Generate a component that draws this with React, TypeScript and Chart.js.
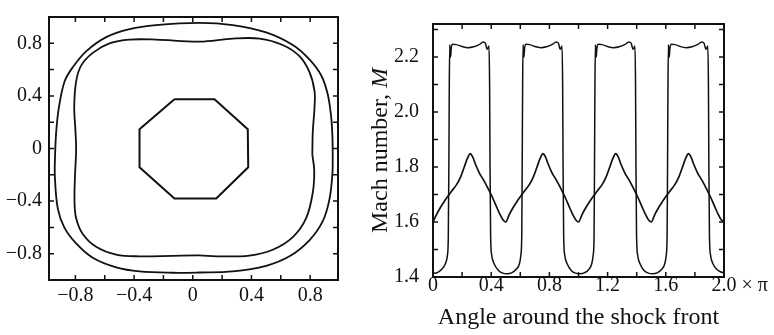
import React, { useEffect, useRef } from "react";
import { Chart, registerables } from "chart.js";

Chart.register(...registerables);

const SERIF = "'Liberation Serif', 'Times New Roman', serif";
const INK = "#111111";
const TICK_PX = 20;
const TITLE_PX = 24;

// ---------------- Left panel: shock front shapes ----------------
const octagonX = [-0.125, 0.148, 0.375, 0.378, 0.16, -0.125, -0.363, -0.363, -0.125];
const octagonY = [0.384, 0.384, 0.157, -0.133, -0.37, -0.37, -0.133, 0.157, 0.384];

const outerFrontX = [0.954, 0.952, 0.943, 0.92, 0.875, 0.795, 0.682, 0.5, 0.273, 0.046, -0.25, -0.431, -0.59, -0.727, -0.818, -0.874, -0.912, -0.93, -0.938, -0.94, -0.92, -0.875, -0.795, -0.682, -0.522, -0.363, -0.136, 0.046, 0.273, 0.5, 0.659, 0.795, 0.886, 0.932, 0.952, 0.954];
const outerFrontY = [-0.036, 0.1, 0.254, 0.422, 0.567, 0.688, 0.797, 0.893, 0.949, 0.966, 0.949, 0.918, 0.857, 0.749, 0.628, 0.52, 0.326, 0.15, -0.02, -0.205, -0.447, -0.592, -0.712, -0.821, -0.894, -0.925, -0.935, -0.933, -0.925, -0.882, -0.81, -0.688, -0.543, -0.375, -0.18, -0.036];

const innerFrontX = [0.815, 0.818, 0.83, 0.83, 0.795, 0.727, 0.613, 0.455, 0.273, 0.046, -0.25, -0.431, -0.568, -0.682, -0.761, -0.795, -0.808, -0.8, -0.795, -0.803, -0.806, -0.795, -0.75, -0.659, -0.522, -0.363, -0.136, 0.046, 0.16, 0.386, 0.545, 0.682, 0.773, 0.818, 0.828, 0.815];
const innerFrontY = [-0.036, 0.133, 0.326, 0.447, 0.592, 0.712, 0.797, 0.846, 0.846, 0.823, 0.838, 0.838, 0.809, 0.737, 0.64, 0.52, 0.326, 0.15, 0.0, -0.2, -0.4, -0.52, -0.64, -0.737, -0.797, -0.81, -0.806, -0.803, -0.81, -0.804, -0.76, -0.664, -0.52, -0.326, -0.157, -0.036];

const leftRangeX = [-0.98, 0.99];
const leftRangeY = [-0.99, 1.01];

// ---------------- Right panel: Mach number around the front ----------------
const angleA = [
  0.0, 0.03, 0.06, 0.085, 0.098, 0.105, 0.109, 0.112, 0.115, 0.118, 0.121, 0.125, 0.135, 0.16, 0.2, 0.24, 0.28, 0.32, 0.345, 0.36, 0.372, 0.385, 0.389, 0.392, 0.396, 0.404, 0.42, 0.45, 0.48,
  0.51, 0.54, 0.57, 0.595, 0.604, 0.61, 0.613, 0.616, 0.619, 0.622, 0.625, 0.629, 0.64, 0.665, 0.7, 0.74, 0.78, 0.82, 0.847, 0.862, 0.874, 0.887, 0.891, 0.894, 0.898, 0.906, 0.922, 0.95, 0.98,
  1.01, 1.04, 1.07, 1.092, 1.101, 1.107, 1.11, 1.113, 1.116, 1.119, 1.122, 1.126, 1.137, 1.162, 1.2, 1.24, 1.28, 1.32, 1.347, 1.362, 1.375, 1.388, 1.392, 1.395, 1.399, 1.407, 1.423, 1.45, 1.48,
  1.51, 1.54, 1.57, 1.594, 1.603, 1.609, 1.612, 1.615, 1.618, 1.621, 1.624, 1.628, 1.639, 1.664, 1.7, 1.74, 1.78, 1.82, 1.848, 1.863, 1.876, 1.889, 1.893, 1.896, 1.9, 1.908, 1.924, 1.95, 1.975, 2.0,
];
const machA = [
  1.413, 1.416, 1.428, 1.448, 1.475, 1.54, 1.8, 2.1, 2.245, 2.215, 2.2, 2.23, 2.246, 2.245, 2.238, 2.234, 2.237, 2.246, 2.255, 2.25, 2.228, 2.24, 2.1, 1.8, 1.55, 1.478, 1.448, 1.424, 1.414,
  1.412, 1.415, 1.427, 1.45, 1.48, 1.55, 1.8, 2.1, 2.245, 2.215, 2.2, 2.23, 2.246, 2.245, 2.238, 2.234, 2.237, 2.246, 2.255, 2.25, 2.228, 2.24, 2.1, 1.8, 1.55, 1.478, 1.448, 1.424, 1.414,
  1.412, 1.415, 1.427, 1.45, 1.48, 1.55, 1.8, 2.1, 2.245, 2.215, 2.2, 2.23, 2.246, 2.245, 2.238, 2.234, 2.237, 2.246, 2.255, 2.25, 2.228, 2.24, 2.1, 1.8, 1.55, 1.478, 1.448, 1.424, 1.414,
  1.412, 1.415, 1.427, 1.45, 1.48, 1.55, 1.8, 2.1, 2.245, 2.215, 2.2, 2.23, 2.246, 2.245, 2.238, 2.234, 2.237, 2.246, 2.255, 2.25, 2.228, 2.24, 2.1, 1.8, 1.55, 1.478, 1.448, 1.428, 1.419, 1.415,
];

const angleB = [
  0.0, 0.025, 0.05, 0.075, 0.1, 0.13, 0.16, 0.19, 0.215, 0.237, 0.256, 0.272, 0.292, 0.318, 0.348, 0.378, 0.408, 0.436, 0.46, 0.482,
  0.5, 0.525, 0.55, 0.575, 0.6, 0.63, 0.66, 0.69, 0.715, 0.737, 0.756, 0.772, 0.792, 0.818, 0.848, 0.878, 0.908, 0.936, 0.96, 0.982,
  1.0, 1.025, 1.05, 1.075, 1.1, 1.13, 1.16, 1.19, 1.215, 1.237, 1.256, 1.272, 1.292, 1.318, 1.348, 1.378, 1.408, 1.436, 1.46, 1.482,
  1.5, 1.525, 1.55, 1.575, 1.6, 1.63, 1.66, 1.69, 1.715, 1.737, 1.756, 1.772, 1.792, 1.818, 1.848, 1.878, 1.908, 1.936, 1.96, 1.982, 2.0,
];
const machB = [
  1.6, 1.628, 1.652, 1.673, 1.692, 1.714, 1.734, 1.764, 1.8, 1.832, 1.849, 1.838, 1.81, 1.779, 1.752, 1.722, 1.69, 1.656, 1.628, 1.607,
  1.6, 1.628, 1.652, 1.673, 1.692, 1.714, 1.734, 1.764, 1.8, 1.832, 1.849, 1.838, 1.81, 1.779, 1.752, 1.722, 1.69, 1.656, 1.628, 1.607,
  1.6, 1.628, 1.652, 1.673, 1.692, 1.714, 1.734, 1.764, 1.8, 1.832, 1.849, 1.838, 1.81, 1.779, 1.752, 1.722, 1.69, 1.656, 1.628, 1.607,
  1.6, 1.628, 1.652, 1.673, 1.692, 1.714, 1.734, 1.764, 1.8, 1.832, 1.849, 1.838, 1.81, 1.779, 1.752, 1.722, 1.69, 1.656, 1.628, 1.607, 1.6,
];

const rightRangeX = [0, 2.0];
const rightRangeY = [1.4, 2.32];
const yTitleMain = "Mach number, ";
const yTitleSymbol = "M";
const xTitle = "Angle around the shock front";
const xUnitSuffix = "× π";

// ---------------- helpers ----------------
const pts = (xs: number[], ys: number[]) => xs.map((x, i) => ({ x, y: ys[i] }));

const leftTickLabel = (v: number) => {
  const k = Math.round(v * 10);
  if (k % 4 !== 0) return "";
  if (k === 0) return "0";
  const s = (Math.abs(k) / 10).toFixed(1);
  return k < 0 ? "\u2212" + s : s;
};
const rightXLabel = (v: number) => {
  const k = Math.round(v * 10);
  if (k % 4 !== 0) return "";
  return k === 0 ? "0" : (k / 10).toFixed(1);
};
const rightYLabel = (v: number) => {
  const k = Math.round(v * 10);
  if (k % 2 !== 0) return "";
  return (k / 10).toFixed(1);
};

const framePlugin = {
  id: "frameTicks",
  afterDraw(chart: any) {
    const { ctx, chartArea: a, scales } = chart;
    const len = 5;
    ctx.save();
    ctx.strokeStyle = INK;
    ctx.lineWidth = 1.5;
    ctx.beginPath();
    scales.x.ticks.forEach((t: any) => {
      const p = scales.x.getPixelForValue(t.value);
      if (p < a.left + 2 || p > a.right - 2) return;
      ctx.moveTo(p, a.bottom);
      ctx.lineTo(p, a.bottom - len);
      ctx.moveTo(p, a.top);
      ctx.lineTo(p, a.top + len);
    });
    scales.y.ticks.forEach((t: any) => {
      const p = scales.y.getPixelForValue(t.value);
      if (p < a.top + 2 || p > a.bottom - 2) return;
      ctx.moveTo(a.left, p);
      ctx.lineTo(a.left + len, p);
      ctx.moveTo(a.right, p);
      ctx.lineTo(a.right - len, p);
    });
    ctx.stroke();
    ctx.lineWidth = 2;
    ctx.strokeRect(a.left, a.top, a.right - a.left, a.bottom - a.top);
    ctx.restore();
  },
};

const RIGHT_X_TICK_PAD = -1;

const rightDecorPlugin = {
  id: "rightDecor",
  afterDraw(chart: any) {
    const { ctx, chartArea: a, scales } = chart;
    ctx.save();
    ctx.fillStyle = INK;
    // y-axis title with italic symbol
    const normal = `${TITLE_PX}px ${SERIF}`;
    const italic = `italic ${TITLE_PX}px ${SERIF}`;
    ctx.font = normal;
    const w1 = ctx.measureText(yTitleMain).width;
    ctx.font = italic;
    const w2 = ctx.measureText(yTitleSymbol).width;
    ctx.translate(21, (a.top + a.bottom) / 2);
    ctx.rotate(-Math.PI / 2);
    ctx.textBaseline = "middle";
    ctx.textAlign = "left";
    ctx.font = normal;
    ctx.fillText(yTitleMain, -(w1 + w2) / 2, 0);
    ctx.font = italic;
    ctx.fillText(yTitleSymbol, -(w1 + w2) / 2 + w1, 0);
    ctx.setTransform(1, 0, 0, 1, 0, 0);
    // "× π" after the last x tick label
    ctx.font = `${TICK_PX}px ${SERIF}`;
    const px = scales.x.getPixelForValue(rightRangeX[1]);
    const lw = ctx.measureText(rightXLabel(rightRangeX[1])).width;
    const y = a.bottom + RIGHT_X_TICK_PAD + TICK_PX / 2;
    ctx.textAlign = "left";
    ctx.textBaseline = "middle";
    ctx.fillText(xUnitSuffix, px + lw / 2 + 5, y);
    ctx.restore();
  },
};

const tickFont = { family: SERIF, size: TICK_PX, lineHeight: 1 };

export default function App() {
  const leftRef = useRef<HTMLCanvasElement | null>(null);
  const rightRef = useRef<HTMLCanvasElement | null>(null);

  useEffect(() => {
    if (!leftRef.current || !rightRef.current) return;
    const lineDs = (data: any[], tension: number, width: number) => ({
      data,
      showLine: true,
      borderColor: INK,
      borderWidth: width,
      pointRadius: 0,
      fill: false,
      tension,
    });

    const left = new Chart(leftRef.current, {
      type: "scatter",
      data: {
        datasets: [
          lineDs(pts(outerFrontX, outerFrontY), 0.35, 1.8),
          lineDs(pts(innerFrontX, innerFrontY), 0.35, 1.8),
          lineDs(pts(octagonX, octagonY), 0, 2),
        ],
      },
      options: {
        responsive: false,
        animation: false,
        events: [],
        layout: { padding: { top: 5, right: 22, left: 0, bottom: 0 } },
        plugins: { legend: { display: false }, tooltip: { enabled: false } },
        scales: {
          x: {
            type: "linear",
            min: leftRangeX[0],
            max: leftRangeX[1],
            grid: { display: false, drawTicks: false, tickLength: 0 },
            border: { display: false },
            ticks: {
              stepSize: 0.2,
              includeBounds: false,
              autoSkip: false,
              maxRotation: 0,
              padding: 6,
              color: INK,
              font: tickFont,
              callback: (v: any) => leftTickLabel(Number(v)),
            },
            afterFit: (s: any) => {
              s.height = 55;
            },
          },
          y: {
            type: "linear",
            min: leftRangeY[0],
            max: leftRangeY[1],
            grid: { display: false, drawTicks: false, tickLength: 0 },
            border: { display: false },
            ticks: {
              stepSize: 0.2,
              includeBounds: false,
              autoSkip: false,
              padding: 7,
              color: INK,
              font: tickFont,
              callback: (v: any) => leftTickLabel(Number(v)),
            },
            afterFit: (s: any) => {
              s.width = 49;
            },
          },
        },
      },
      plugins: [framePlugin],
    } as any);

    const right = new Chart(rightRef.current, {
      type: "scatter",
      data: {
        datasets: [
          { ...lineDs(pts(angleA, machA), 0, 1.5), cubicInterpolationMode: "monotone" },
          { ...lineDs(pts(angleB, machB), 0, 1.7), cubicInterpolationMode: "monotone" },
        ],
      },
      options: {
        responsive: false,
        animation: false,
        events: [],
        layout: { padding: { top: 6, right: 50, left: 0, bottom: 0 } },
        plugins: { legend: { display: false }, tooltip: { enabled: false } },
        scales: {
          x: {
            type: "linear",
            min: rightRangeX[0],
            max: rightRangeX[1],
            grid: { display: false, drawTicks: false, tickLength: 0 },
            border: { display: false },
            ticks: {
              stepSize: 0.2,
              autoSkip: false,
              maxRotation: 0,
              padding: RIGHT_X_TICK_PAD,
              color: INK,
              font: tickFont,
              callback: (v: any) => rightXLabel(Number(v)),
            },
            title: {
              display: true,
              text: xTitle,
              color: INK,
              font: { family: SERIF, size: TITLE_PX, lineHeight: 1.2 },
              padding: { top: 0, bottom: 3 },
            },
            afterFit: (s: any) => {
              s.height = 58;
            },
          },
          y: {
            type: "linear",
            min: rightRangeY[0],
            max: rightRangeY[1],
            grid: { display: false, drawTicks: false, tickLength: 0 },
            border: { display: false },
            ticks: {
              stepSize: 0.1,
              includeBounds: false,
              autoSkip: false,
              padding: 14,
              color: INK,
              font: tickFont,
              callback: (v: any) => rightYLabel(Number(v)),
            },
            afterFit: (s: any) => {
              s.width = 73;
            },
          },
        },
      },
      plugins: [framePlugin, rightDecorPlugin],
    } as any);

    return () => {
      left.destroy();
      right.destroy();
    };
  }, []);

  return (
    <div style={{ position: "absolute", left: 0, top: 0, width: 774, height: 335, background: "#fff", overflow: "hidden" }}>
      <canvas ref={leftRef} width={360} height={335} style={{ position: "absolute", left: 0, top: 0, display: "block" }} />
      <canvas ref={rightRef} width={414} height={335} style={{ position: "absolute", left: 360, top: 0, display: "block" }} />
    </div>
  );
}
